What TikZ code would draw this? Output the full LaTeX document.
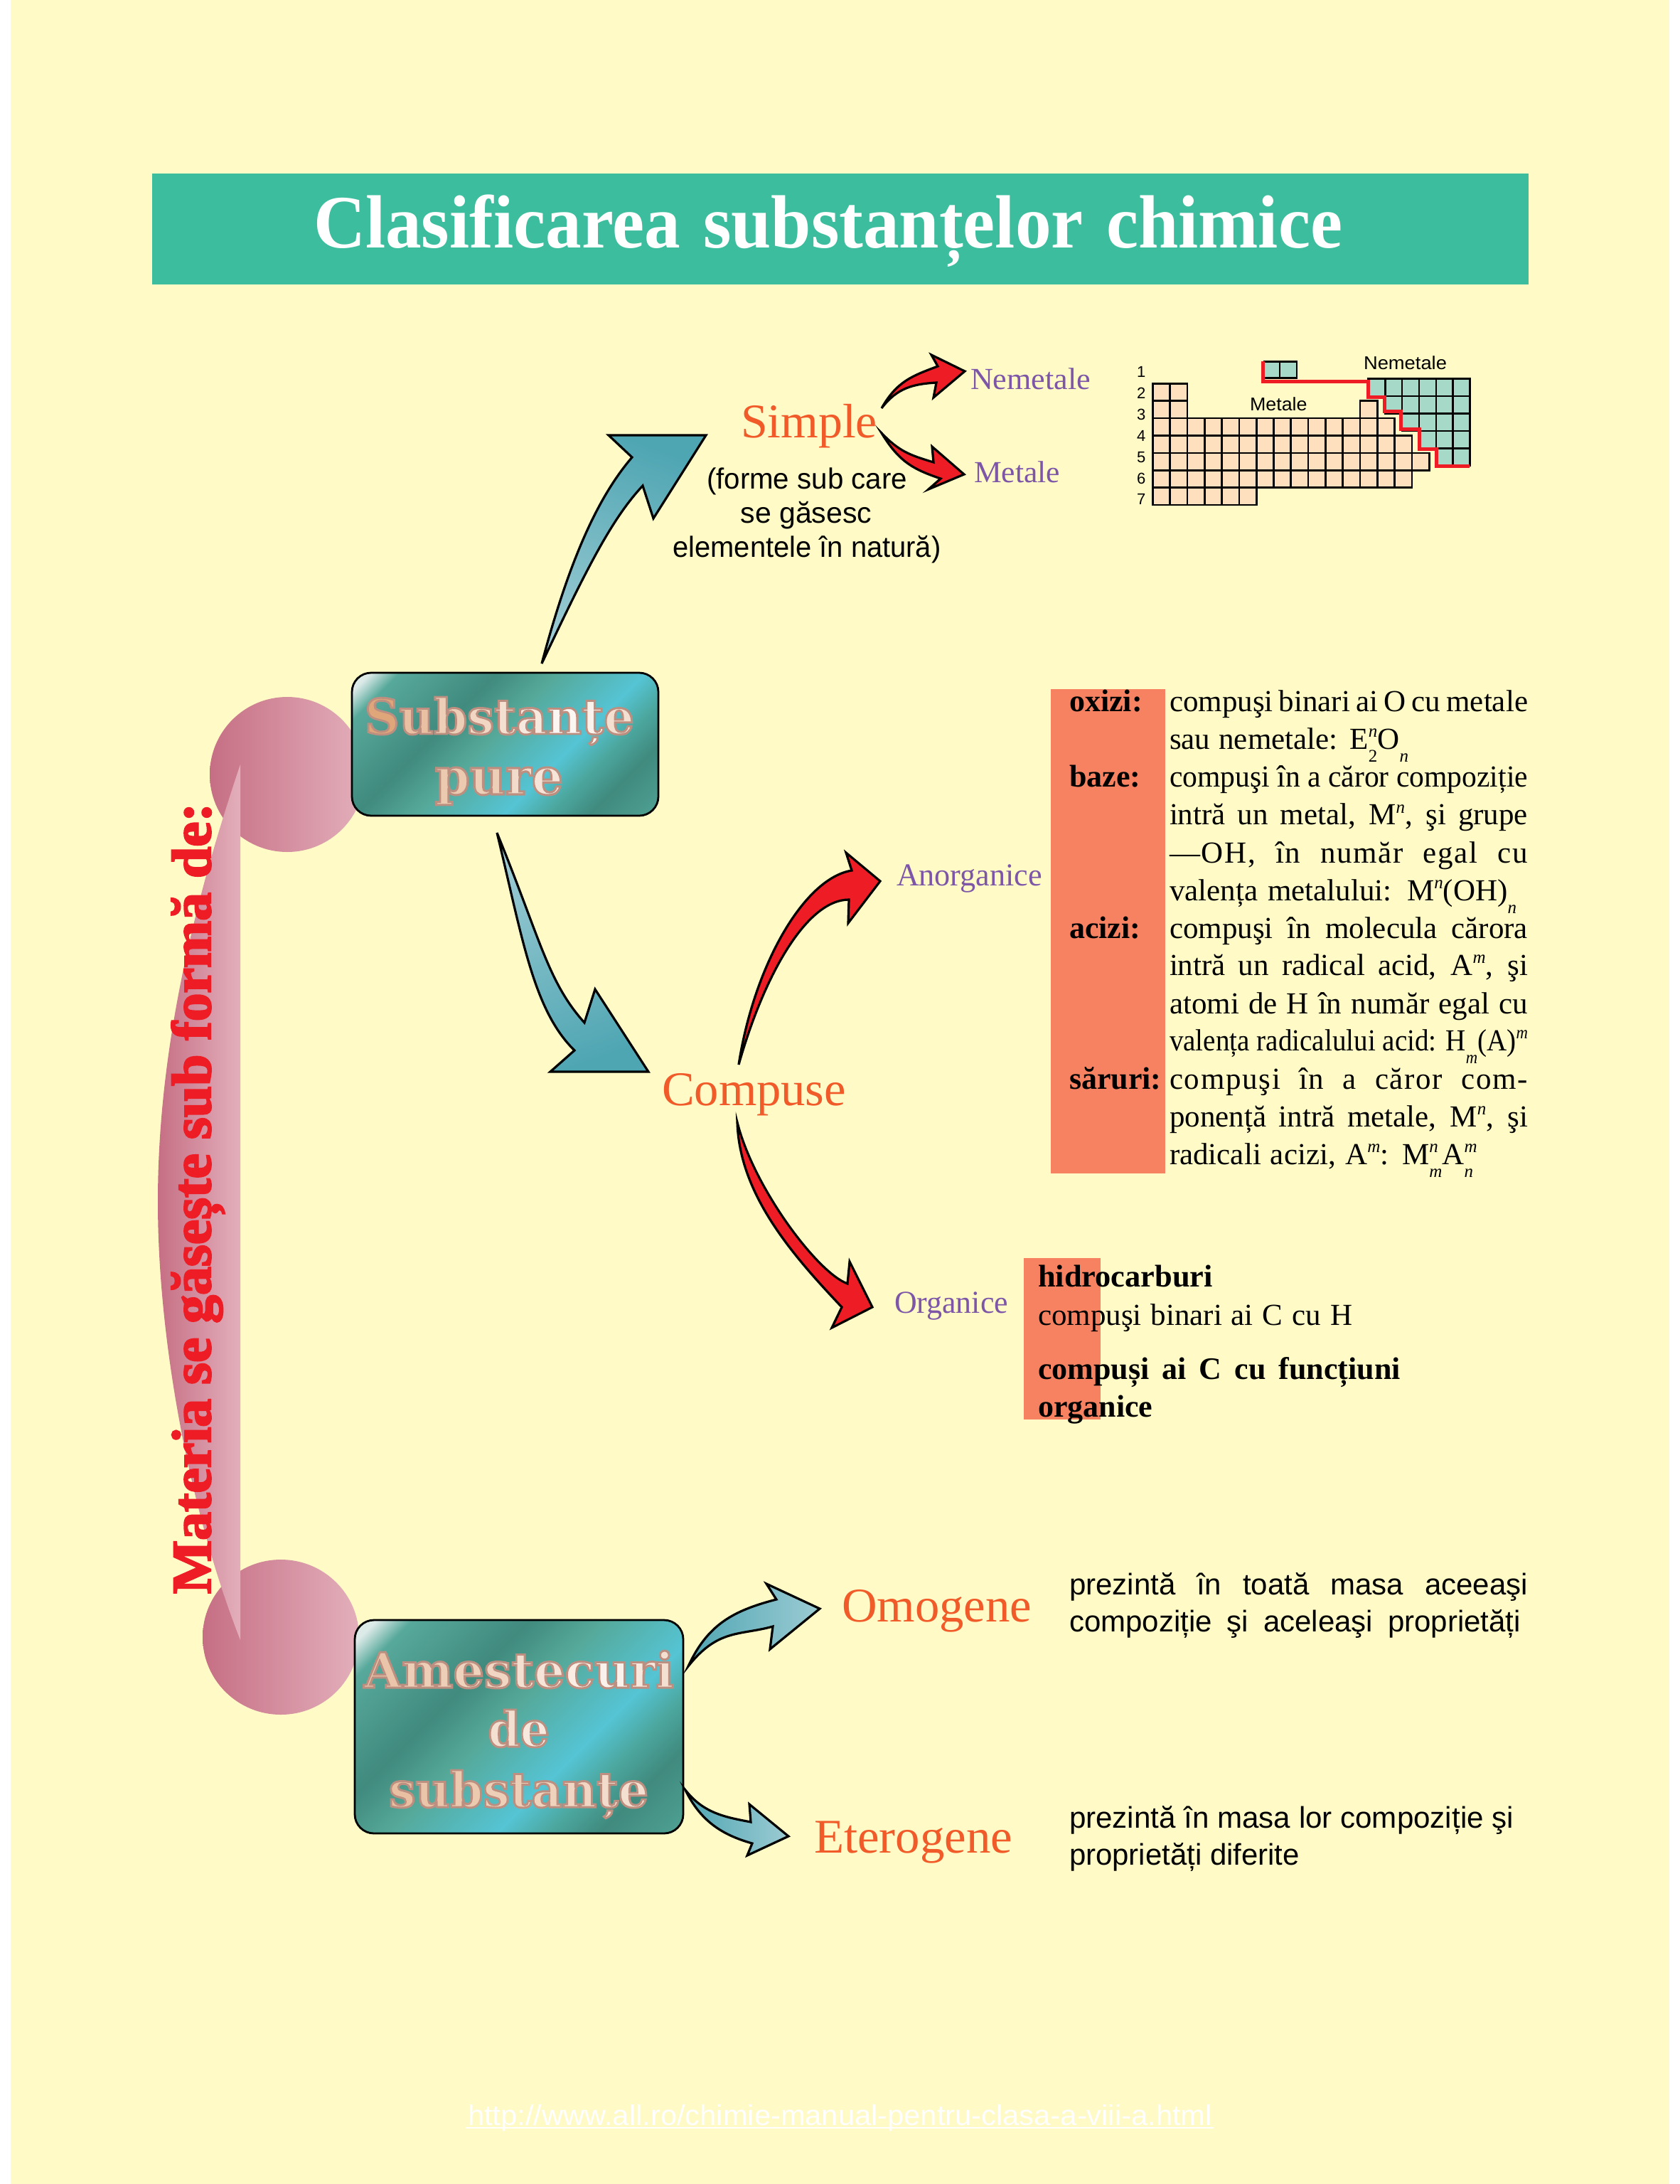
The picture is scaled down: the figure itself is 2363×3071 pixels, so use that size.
\documentclass[tikz,border=0pt]{standalone}
\usepackage{graphicx}
\usepackage{fontspec}
\usetikzlibrary{calc}
\setmainfont{Liberation Serif}
\newfontfamily\arl{Liberation Sans}
\newfontfamily\dvs{DejaVu Serif}
\definecolor{pagey}{HTML}{FFFAC6}
\definecolor{titleg}{HTML}{3CBD9E}
\definecolor{orangeb}{HTML}{F68262}
\definecolor{labo}{HTML}{F15A29}
\definecolor{labp}{HTML}{7D56A8}
\definecolor{redd}{HTML}{EE1C25}
\definecolor{cpink}{HTML}{C66F84}
\definecolor{lpink}{HTML}{E3AFBB}
\definecolor{cellm}{HTML}{FFE0BE}
\definecolor{celln}{HTML}{A6D9C8}
\definecolor{tanc}{HTML}{DFA67A}
\definecolor{arrd}{HTML}{4FA6B3}
\definecolor{arrl}{HTML}{9CCBD3}
\definecolor{mA}{HTML}{DCEAE8}
\definecolor{mB}{HTML}{57A99B}
\definecolor{mC}{HTML}{408A7E}
\definecolor{mD}{HTML}{55A898}
\definecolor{mE}{HTML}{55C4D4}
\definecolor{mF}{HTML}{4CA8A0}
\definecolor{mG}{HTML}{408A7E}
\definecolor{mH}{HTML}{4FA094}
\pgfdeclarehorizontalshading{metal}{100bp}{color(0bp)=(mA);color(32.5bp)=(mA);color(33.7bp)=(mA);color(36bp)=(mB);color(43.7bp)=(mC);color(48.25bp)=(mD);color(55.5bp)=(mE);color(58.75bp)=(mF);color(62.25bp)=(mG);color(67.5bp)=(mH);color(100bp)=(mH)}
\newcommand\fs[1]{\fontsize{#1pt}{#1pt}\selectfont}
\newcommand\WT[2]{\resizebox{#1pt}{\height}{#2}}
\newcommand\RB[3]{\resizebox{#1pt}{#2pt}{#3}}
\newcommand\JL[2]{\hbox to #1pt{\spaceskip=.25em plus 1fil minus 1fil\relax #2}}
\newcommand\gl[2]{{\color{tanc!#2!white}\special{pdf:code 2 Tr 3 w 0.74 0.56 0.5 RG}#1\special{pdf:code 0 Tr}}}
\newcommand\Up[1]{\raisebox{.38em}{\fontsize{25pt}{25pt}\selectfont\itshape #1}}
\newcommand\Dn[1]{\raisebox{-.42em}{\fontsize{25pt}{25pt}\selectfont\itshape #1}}
\newcommand\DnR[1]{\raisebox{-.42em}{\fontsize{25pt}{25pt}\selectfont #1}}
\newcommand\UD[2]{\rlap{\Up{#1}}\Dn{#2}}
\newcommand\UDR[2]{\rlap{\Up{#1}}\DnR{#2}}
\tikzset{
  tl/.style={anchor=base west,inner sep=0pt,outer sep=0pt},
  tc/.style={anchor=base,inner sep=0pt,outer sep=0pt},
  bluearrow/.style={draw=black,line width=3.2pt,line join=miter},
  redarrow/.style={draw=black,fill=redd,line width=3.2pt,line join=miter},
  boxframe/.style={draw=black,line width=2.8pt,rounded corners=27pt,inner sep=0pt,minimum width=#1},
  cellmet/.style={draw=black,fill=cellm,line width=2.7pt},
  cellnon/.style={draw=black,fill=celln,line width=2.7pt},
  bodyline/.style={tl,font=\fs{43}},
  boldlab/.style={tl,font=\fs{44}\bfseries},
  tablab/.style={tl,font=\arl\fs{22}}
}
\begin{document}
\begin{tikzpicture}[x=1pt,y=-1pt]
\useasboundingbox (0,0) rectangle (2363,3071);
\fill[white] (0,0) rectangle (2363,3071);
\fill[pagey] (15,0) rectangle (2348,3071);
% title
\fill[titleg] (214,244) rectangle (2150,400);
\node[tl,text=white] (title) at (441,348) {\WT{1447}{\fs{106}\bfseries\spaceskip=.32em\relax Clasificarea substanțelor chimice}};
% circles and crescent
\shade[left color=cpink,right color=lpink] (404,1089) circle [radius=109];
\shade[left color=cpink,right color=lpink] (395,2302) ellipse [x radius=110,y radius=109];
\shade[left color=cpink,right color=lpink] (338,1075) .. controls (262,1300) and (222,1500) .. (222,1690) .. controls (222,1880) and (265,2120) .. (338,2306) -- cycle;
\node[tl,rotate=90,text=redd] (side) at (296,2241) {\WT{1112}{\fs{78}\bfseries\addfontfeature{FakeBold=3}Materia se găsește sub formă de:}};
% boxes
\begin{scope}
\clip[rounded corners=27pt] (495,946) rectangle (926,1147);
\path[shading=metal,shading angle=-45] ({710.5-316},{1046.5-316}) rectangle ({710.5+316},{1046.5+316});
\end{scope}
\node[boxframe=431pt,minimum height=201pt] (box1) at (710.5,1046.5) {};
\begin{scope}
\clip[rounded corners=27pt] (499,2278) rectangle (961,2578);
\path[shading=metal,shading angle=-45] ({730-381},{2428-381}) rectangle ({730+381},{2428+381});
\end{scope}
\node[boxframe=462pt,minimum height=300pt] (box2) at (730,2428) {};
\node[tl] (sb1) at (513,1032) {\RB{379}{52}{\dvs\fs{70}\bfseries\gl{S}{100}\gl{u}{70}\gl{b}{55}\gl{s}{45}\gl{t}{35}\gl{a}{25}\gl{n}{10}\gl{ț}{15}\gl{e}{35}}};
\node[tl] (sb2) at (612,1117) {\RB{180}{38}{\dvs\fs{70}\bfseries\gl{p}{60}\gl{u}{55}\gl{r}{40}\gl{e}{30}}};
\node[tl] (am1) at (512,2373) {\RB{436}{52}{\dvs\fs{70}\bfseries\gl{A}{65}\gl{m}{55}\gl{e}{50}\gl{s}{45}\gl{t}{35}\gl{e}{30}\gl{c}{20}\gl{u}{15}\gl{r}{25}\gl{i}{35}}};
\node[tl] (am2) at (686.5,2456) {\RB{86}{52}{\dvs\fs{70}\bfseries\gl{d}{35}\gl{e}{25}}};
\node[tl] (am3) at (547,2541) {\RB{365}{52}{\dvs\fs{70}\bfseries\gl{s}{70}\gl{u}{65}\gl{b}{60}\gl{s}{55}\gl{t}{55}\gl{a}{50}\gl{n}{45}\gl{ț}{40}\gl{e}{35}}};
% labels
\node[tl,text=labo] (simple) at (1042,615) {\WT{192}{\fs{68}Simple}};
\node[tl,text=labo] (compuse) at (931,1554) {\WT{259}{\fs{68}Compuse}};
\node[tl,text=labo] (omogene) at (1184,2280) {\WT{267}{\fs{68}Omogene}};
\node[tl,text=labo] (eterogene) at (1145,2605) {\WT{279}{\fs{68}Eterogene}};
\node[tl,text=labp] (nemetale) at (1365,547) {\WT{169}{\fs{43}Nemetale}};
\node[tl,text=labp] (metale) at (1370,678) {\WT{121}{\fs{43}Metale}};
\node[tl,text=labp] (anorg) at (1261,1245.5) {\WT{205}{\fs{45}Anorganice}};
\node[tl,text=labp] (org) at (1258,1846.5) {\WT{160}{\fs{45}Organice}};
\node[tc] (f1) at (1135,687) {\arl\WT{282}{\fs{41}(forme sub care}};
\node[tc] (f2) at (1134,735) {\arl\fs{41}se găsesc};
\node[tc] (f3) at (1135,783) {\arl\WT{377}{\fs{41}elementele în natură)}};
% blue arrows
\coordinate (tA) at (762,933); \coordinate (hA) at (993,612);
\path[bluearrow,top color=arrd,bottom color=arrl,shading angle=-20]
 (tA) .. controls (800,790) and (840,700) .. (889,643) -- (856,612) -- (hA) -- (919,729) -- (904,683) .. controls (860,730) and (825,800) .. (tA) -- cycle;
\coordinate (tB) at (699,1171); \coordinate (hB) at (912,1507);
\path[bluearrow,top color=arrl,bottom color=arrd,shading angle=20]
 (tB) .. controls (735,1320) and (750,1420) .. (808,1477) -- (774,1507) -- (hB) -- (837,1391) -- (822,1438) .. controls (770,1380) and (760,1320) .. (tB) -- cycle;
\coordinate (tO) at (968,2343); \coordinate (hO) at (1153,2262);
\path[bluearrow,left color=arrd,right color=arrl]
 (tO) .. controls (995,2285) and (1030,2265) .. (1092,2249) -- (1078,2227) -- (hO) -- (1083,2319) -- (1087,2287) .. controls (1040,2300) and (1010,2290) .. (tO) -- cycle;
\coordinate (tE) at (964,2517); \coordinate (hE) at (1109,2582);
\path[bluearrow,left color=arrd,right color=arrl]
 (tE) .. controls (985,2560) and (1015,2580) .. (1058,2592) -- (1051,2609) -- (hE) -- (1054,2537) -- (1056,2562) .. controls (1020,2555) and (990,2550) .. (tE) -- cycle;
% red arrows
\coordinate (tN) at (1240,574); \coordinate (hN) at (1357,522);
\path[redarrow] (tN) .. controls (1262,535) and (1285,528) .. (1319,515) -- (1310,499) -- (hN) -- (1313,559) -- (1317,538) .. controls (1285,540) and (1262,545) .. (tN) -- cycle;
\coordinate (tM) at (1240,609); \coordinate (hM) at (1356,667);
\path[redarrow] (tM) .. controls (1265,650) and (1285,660) .. (1323,673) -- (1306,688) -- (hM) -- (1311,628) -- (1313,650) .. controls (1280,640) and (1265,635) .. (tM) -- cycle;
\coordinate (tAn) at (1039,1497); \coordinate (hAn) at (1238,1239);
\path[redarrow] (tAn) .. controls (1060,1360) and (1130,1235) .. (1198,1224) -- (1190,1199) -- (hAn) -- (1193,1298) -- (1194,1265) .. controls (1135,1265) and (1075,1370) .. (tAn) -- cycle;
\coordinate (tOr) at (1037,1578); \coordinate (hOr) at (1227,1838);
\path[redarrow] (tOr) .. controls (1040,1680) and (1115,1765) .. (1184,1838) -- (1170,1867) -- (hOr) -- (1195,1774) -- (1192,1805) .. controls (1150,1790) and (1060,1670) .. (tOr) -- cycle;
% periodic table
\foreach \r/\a/\b in {0/0/1,1/0/1,1/12/12,2/0/13,3/0/14,4/0/15,5/0/14,6/0/5}{
  \foreach \c in {\a,...,\b}{
    \draw[cellmet] ({1621.4+\c*24.3},{539.3+\r*24.4}) rectangle +(24.3,24.4);
  }
}
\foreach \r/\a in {0/0,1/1,2/2,3/3,4/4}{
  \foreach \c in {\a,...,5}{
    \draw[cellnon] ({1924.3+\c*23.9},{532.7+\r*24.4}) rectangle +(23.9,24.4);
  }
}
\draw[cellnon] (1778,508.3) rectangle (1800,531.7);
\draw[cellnon] (1800,508.3) rectangle (1824,531.7);
\draw[redd,line width=5pt,line cap=butt,line join=miter] (1776,508) -- (1776,536.7) -- (1924.3,536.7) -- (1924.3,558.5) -- (1947.5,558.5) -- (1947.5,578) -- (1970,578) -- (1970,603) -- (1996.5,603) -- (1996.5,631.7) -- (2020.5,631.7) -- (2020.5,655.5) -- (2067,655.5);
\node[tablab] (p1) at (1599,530) {1};
\node[tablab] (p2) at (1599,560.7) {2};
\node[tablab] (p3) at (1599,590.7) {3};
\node[tablab] (p4) at (1599,620) {4};
\node[tablab] (p5) at (1599,650) {5};
\node[tablab] (p6) at (1599,680) {6};
\node[tablab] (p7) at (1599,709) {7};
\node[tl] (tnem) at (1918,519) {\arl\WT{117}{\fs{26}Nemetale}};
\node[tl] (tmet) at (1758,577.7) {\arl\WT{80.6}{\fs{26}Metale}};
% inorganic block
\fill[orangeb] (1478,969) rectangle (1639,1650);
\node[boldlab] (oxizi) at (1504,1000) {oxizi:};
\node[boldlab] (baze) at (1504,1106) {baze:};
\node[boldlab] (acizi) at (1504,1319) {acizi:};
\node[boldlab] (saruri) at (1504,1531) {săruri:};
\node[bodyline] (l1) at (1645,1000) {\JL{504}{compuşi binari ai O cu metale}};
\node[bodyline] (l2) at (1645,1053) {\JL{336}{sau nemetale: E\UDR{n}{2}O\Dn{n}}};
\node[bodyline] (l3) at (1645,1106) {\WT{504}{compuşi în a căror compoziție}};
\node[bodyline] (l4) at (1645,1159.5) {\JL{504}{intră un metal, M\Up{n}, şi grupe}};
\node[bodyline] (l5) at (1645,1213) {\JL{504}{\addfontfeature{LetterSpace=4}—OH, în număr egal cu}};
\node[bodyline] (l6) at (1645,1266) {\JL{488}{valența metalului: M\Up{n}(OH)\Dn{n}}};
\node[bodyline] (l7) at (1645,1319) {\JL{504}{compuşi în molecula cărora}};
\node[bodyline] (l8) at (1645,1371) {\JL{504}{intră un radical acid, A\Up{m}, şi}};
\node[bodyline] (l9) at (1645,1425) {\JL{504}{atomi de H în număr egal cu}};
\node[bodyline] (l10) at (1645,1477) {\WT{504}{valența radicalului acid: H\Dn{m}(A)\Up{m}}};
\node[bodyline] (l11) at (1645,1531) {\JL{504}{\addfontfeature{LetterSpace=4}compuşi în a căror com-}};
\node[bodyline] (l12) at (1645,1584) {\JL{504}{ponență intră metale, M\Up{n}, şi}};
\node[bodyline] (l13) at (1645,1637) {\JL{427}{radicali acizi, A\Up{m}: M\UD{n}{m}A\UD{m}{n}}};
% organic block
\fill[orangeb] (1440,1769) rectangle (1548,1996);
\node[boldlab] (o1) at (1460,1809) {\WT{246}{hidrocarburi}};
\node[bodyline] (o2) at (1460,1863) {\JL{442}{compuşi binari ai C cu H}};
\node[boldlab] (o3) at (1460,1939) {\JL{510}{compuși ai C cu funcțiuni}};
\node[boldlab] (o4) at (1460,1992) {organice};
% descriptions
\node[tl] (d1) at (1504,2242) {\arl\fs{42}\JL{645}{prezintă în toată masa aceeaşi}};
\node[tl] (d2) at (1504,2294) {\arl\fs{42}\JL{635}{compoziție şi aceleaşi proprietăți}};
\node[tl] (d3) at (1504,2570) {\arl\fs{42}\WT{625}{prezintă în masa lor compoziție şi}};
\node[tl] (d4) at (1504,2622) {\arl\fs{42}\WT{324}{proprietăți diferite}};
% watermark
\node[tl,text=white] (wm) at (658,2988) {\arl\WT{1047}{\fs{40}http://www.all.ro/chimie-manual-pentru-clasa-a-viii-a.html}};
\draw[white,line width=2.5pt] ($(wm.base west)+(-3,4)$) -- ($(wm.base east)+(2,4)$);
\end{tikzpicture}
\end{document}
